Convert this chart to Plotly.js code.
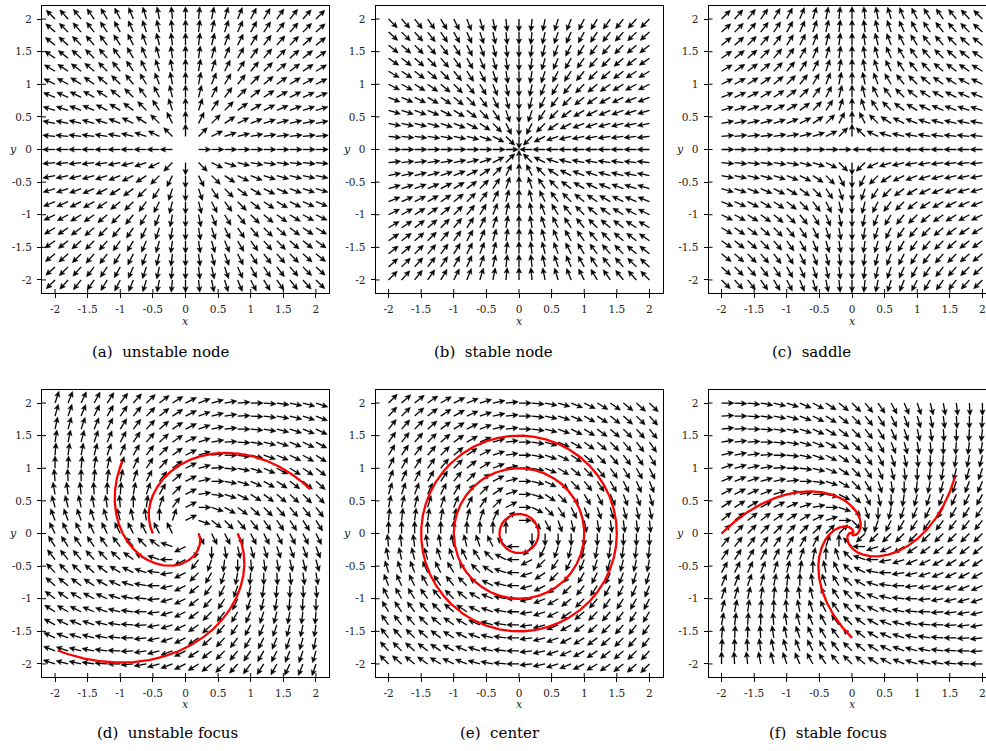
<!DOCTYPE html>
<html><head><meta charset="utf-8">
<script src="https://cdn.plot.ly/plotly-3.0.1.min.js"></script>
<style>html,body{margin:0;padding:0;overflow:hidden;background:#fff;width:986px;height:751px}#plot{width:1000px;height:751px}</style>
</head><body><div id="plot"></div><script>
// grid of arrow tails (same for x and y)
const gridValues = [-2,-1.8,-1.6,-1.4,-1.2,-1,-0.8,-0.6,-0.4,-0.2,0,0.2,0.4,0.6,0.8,1,1.2,1.4,1.6,1.8,2];
const tickValues = [-2,-1.5,-1,-0.5,0,0.5,1,1.5,2];
const tickLabels = ['-2','-1.5','-1','-0.5','0','0.5','1','1.5','2'];
const panelCaptions = ['(a)\u00a0 unstable node','(b)\u00a0 stable node','(c)\u00a0 saddle',
                       '(d)\u00a0 unstable focus','(e)\u00a0 center','(f)\u00a0 stable focus'];
// linear systems  [x', y'] = M [x, y]
const unstableNodeMatrix  = [[1,0],[0,1]];
const stableNodeMatrix    = [[-1,0],[0,-1]];
const saddleMatrix        = [[-1,0],[0,1]];
const unstableFocusMatrix = [[0.5,1],[-1,0.5]];
const centerMatrix        = [[0,1],[-1,0]];
const stableFocusMatrix   = [[-1,1],[-1,-1]];
// red trajectories: start points and integration times
const unstableFocusStarts = [[0.2,0],[-0.5,0],[0.8,0]];
const unstableFocusTimes  = [4.0,2.8,2.4];
const centerStarts = [[0.3,0],[1,0],[1.5,0]];
const centerTimes  = [6.3,6.3,6.3];
const stableFocusStarts = [[-2,0],[1.58,0.87],[0,-1.6]];
const stableFocusTimes  = [6,6,6];

const panels = [
  {M: unstableNodeMatrix, starts: [], times: []},
  {M: stableNodeMatrix, starts: [], times: []},
  {M: saddleMatrix, starts: [], times: []},
  {M: unstableFocusMatrix, starts: unstableFocusStarts, times: unstableFocusTimes},
  {M: centerMatrix, starts: centerStarts, times: centerTimes},
  {M: stableFocusMatrix, starts: stableFocusStarts, times: stableFocusTimes}
];

const W = 1000, Hh = 751;
const colPx = [[42,329],[375.5,662.5],[708.5,995.5]];
const rowPx = [[6,293],[390,677]];
const xTitlePx = [321, 704];
const yTitleOffset = 29;
const captionX = [161,493,811,167,500,828];
const captionY = [352,733];

const L = 0.19, HL = 0.085, HW = 0.04;
const serif = "DejaVu Serif";

function field(M, x, y){ return [M[0][0]*x+M[0][1]*y, M[1][0]*x+M[1][1]*y]; }

function quiver(M){
  const sx=[],sy=[],hx=[],hy=[];
  for (const gx of gridValues) for (const gy of gridValues){
    let [u,v] = field(M,gx,gy);
    const n = Math.hypot(u,v); if (n<1e-9) continue;
    u/=n; v/=n;
    const tx=gx+L*u, ty=gy+L*v;
    const bx=tx-HL*u, by=ty-HL*v;
    const nx=tx-0.75*HL*u, ny=ty-0.75*HL*v;
    sx.push(gx, nx, null); sy.push(gy, ny, null);
    hx.push(tx, bx - HW*v, nx, bx + HW*v, tx, null);
    hy.push(ty, by + HW*u, ny, by - HW*u, ty, null);
  }
  return {sx,sy,hx,hy};
}

function integrate(M, p0, T){
  const dt = 0.005, steps = Math.round(T/dt);
  let x=p0[0], y=p0[1];
  const xs=[x], ys=[y];
  for (let i=0;i<steps;i++){
    const k1=field(M,x,y);
    const k2=field(M,x+dt/2*k1[0],y+dt/2*k1[1]);
    const k3=field(M,x+dt/2*k2[0],y+dt/2*k2[1]);
    const k4=field(M,x+dt*k3[0],y+dt*k3[1]);
    x+=dt/6*(k1[0]+2*k2[0]+2*k3[0]+k4[0]);
    y+=dt/6*(k1[1]+2*k2[1]+2*k3[1]+k4[1]);
    xs.push(x); ys.push(y);
  }
  return [xs,ys];
}

const traces=[], layout={width:W,height:Hh,margin:{l:0,r:0,t:0,b:0},showlegend:false,
  paper_bgcolor:'#fff',plot_bgcolor:'#fff',annotations:[],shapes:[]};
const tickFont={family:serif,size:10.5,color:'#222'};

panels.forEach((p,i)=>{
  const n = i===0 ? '' : String(i+1);
  const xa='x'+n, ya='y'+n;
  const col=colPx[i%3], row=rowPx[Math.floor(i/3)];
  const q=quiver(p.M);
  traces.push({type:'scatter',mode:'lines',x:q.sx,y:q.sy,xaxis:xa,yaxis:ya,
    line:{color:'#000',width:1.3},hoverinfo:'skip'});
  traces.push({type:'scatter',mode:'lines',x:q.hx,y:q.hy,xaxis:xa,yaxis:ya,fill:'toself',
    fillcolor:'#000',line:{color:'#000',width:0.5},hoverinfo:'skip'});
  p.starts.forEach((s,k)=>{
    const [xs,ys]=integrate(p.M,s,p.times[k]);
    traces.push({type:'scatter',mode:'lines',x:xs,y:ys,xaxis:xa,yaxis:ya,
      line:{color:'#ff0000',width:2.3},hoverinfo:'skip'});
  });
  const common={range:[-2.2,2.2],tickvals:tickValues,ticktext:tickLabels,ticks:'outside',ticklen:4,
    tickwidth:1,tickcolor:'#000',showline:true,mirror:true,linecolor:'#000',linewidth:1,
    showgrid:false,zeroline:false,tickfont:tickFont,fixedrange:true};
  layout['xaxis'+n]=Object.assign({},common,{anchor:ya,domain:[col[0]/W,col[1]/W],ticklabelstandoff:2});
  layout['yaxis'+n]=Object.assign({},common,{anchor:xa,domain:[1-row[1]/Hh,1-row[0]/Hh],ticklabelstandoff:3});
  // inner half of centred tick marks
  tickValues.forEach(t=>{
    layout.shapes.push({type:'line',xref:xa,yref:ya,x0:t,x1:t,ysizemode:'pixel',yanchor:-2.2,y0:0,y1:4,
      line:{color:'#000',width:1}});
    layout.shapes.push({type:'line',yref:ya,xref:xa,y0:t,y1:t,xsizemode:'pixel',xanchor:-2.2,x0:0,x1:4,
      line:{color:'#000',width:1}});
  });
  const cx=(col[0]+col[1])/2;
  layout.annotations.push({xref:'paper',yref:'paper',x:cx/W,y:1-xTitlePx[Math.floor(i/3)]/Hh,
    text:'<i>x</i>',showarrow:false,xanchor:'center',yanchor:'middle',
    font:{family:serif,size:11,color:'#222'}});
  const y0px=(row[0]+row[1])/2;
  layout.annotations.push({xref:'paper',yref:'paper',x:(col[0]-yTitleOffset)/W,y:1-y0px/Hh,
    text:'<i>y</i>',showarrow:false,xanchor:'center',yanchor:'middle',
    font:{family:serif,size:11,color:'#222'}});
  layout.annotations.push({xref:'paper',yref:'paper',x:captionX[i]/W,y:1-captionY[Math.floor(i/3)]/Hh,
    text:panelCaptions[i],showarrow:false,xanchor:'center',yanchor:'middle',
    font:{family:serif,size:15,color:'#000'}});
});

Plotly.newPlot('plot',traces,layout,{staticPlot:true,displayModeBar:false});
</script></body></html>
